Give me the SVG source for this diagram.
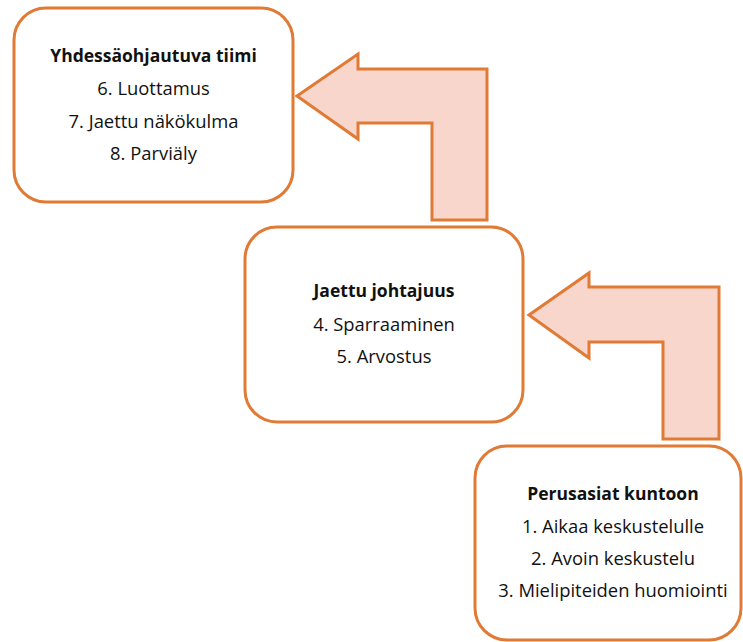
<svg xmlns="http://www.w3.org/2000/svg" width="743" height="642" viewBox="0 0 743 642">
<style>
.box{fill:#fff;stroke:#E07A35;stroke-width:3}
.arr{fill:#F8D6CB;stroke:#E07A35;stroke-width:3;stroke-linejoin:miter}
text{font-family:"Open Sans","Liberation Sans",sans-serif;font-size:18.4px;fill:#111;text-anchor:middle}
.t{font-weight:bold;font-size:17.5px}
</style>
<rect width="743" height="642" fill="#fff"/>
<g id="connectors">
<polygon class="arr" points="297,96 358,54 358,69 487,69 487,220 432,220 432,123 358,123 358,139"/>
<polygon class="arr" points="529,315 589,273 589,287 719,287 719,439 663,439 663,342 589,342 589,358"/>
</g>
<g id="node-yhdessa">
<rect class="box" x="14" y="8" width="279" height="194" rx="32"/>
<text class="t" x="153.5" y="62">Yhdessäohjautuva tiimi</text>
<text x="153.5" y="95">6. Luottamus</text>
<text x="153.5" y="128">7. Jaettu näkökulma</text>
<text x="153.5" y="160">8. Parviäly</text>
</g>
<g id="node-jaettu">
<rect class="box" x="245" y="227" width="278" height="195" rx="32"/>
<text class="t" x="384" y="297">Jaettu johtajuus</text>
<text x="384" y="331">4. Sparraaminen</text>
<text x="384" y="363">5. Arvostus</text>
</g>
<g id="node-perusasiat">
<rect class="box" x="475" y="446" width="266" height="194" rx="32"/>
<text class="t" x="613" y="500">Perusasiat kuntoon</text>
<text x="613" y="533">1. Aikaa keskustelulle</text>
<text x="613" y="565">2. Avoin keskustelu</text>
<text x="613" y="597">3. Mielipiteiden huomiointi</text>
</g>
</svg>
